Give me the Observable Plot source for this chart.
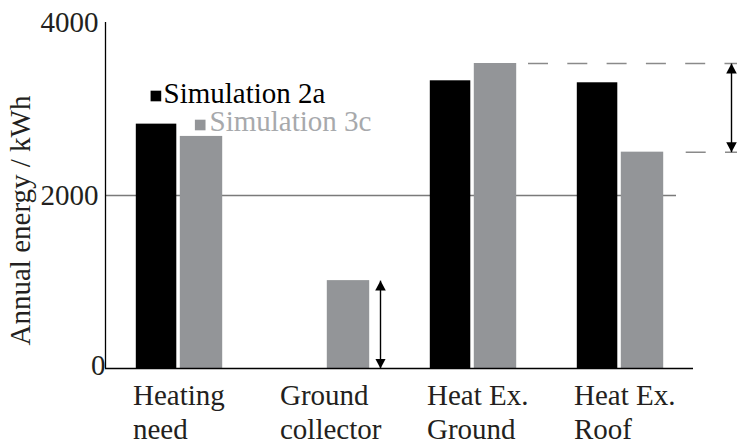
<!DOCTYPE html>
<html>
<head>
<meta charset="utf-8">
<script src="https://cdn.jsdelivr.net/npm/d3@7"></script>
<script src="https://cdn.jsdelivr.net/npm/@observablehq/plot@0.6"></script>
<style>
  html, body { margin: 0; padding: 0; background: white; }
  #chart svg, #chart svg text { font-family: "Liberation Serif", "Tinos", "DejaVu Serif", "Noto Serif", serif !important; }
</style>
</head>
<body>
<div id="chart"></div>
<script>
// ---- data ----
const categories = ["Heating\nneed", "Ground\ncollector", "Heat Ex.\nGround", "Heat Ex.\nRoof"];
const sim2a = [2825, 0, 3326, 3303];
const sim3c = [2683, 1016, 3526, 2501];
const seriesNames = ["Simulation 2a", "Simulation 3c"];
const yTicks = [0, 2000, 4000];
const yLabel = "Annual energy / kWh";

const rows2a = categories.map((c, i) => ({cat: c, value: sim2a[i]}));
const rows3c = categories.map((c, i) => ({cat: c, value: sim3c[i]}));

const black = "#000000";
const gray = "#939598";
const serif = "'Liberation Serif', 'DejaVu Serif', serif";

function arrowHead(color) {
  const ns = "http://www.w3.org/2000/svg";
  const m = document.createElementNS(ns, "marker");
  m.setAttribute("viewBox", "-10 -5.5 10 11");
  m.setAttribute("markerWidth", "10");
  m.setAttribute("markerHeight", "11");
  m.setAttribute("markerUnits", "userSpaceOnUse");
  m.setAttribute("refX", "0");
  m.setAttribute("refY", "0");
  m.setAttribute("orient", "auto-start-reverse");
  const p = document.createElementNS(ns, "path");
  p.setAttribute("d", "M-10,-5.3L0,0L-10,5.3Z");
  p.setAttribute("fill", color || "black");
  p.setAttribute("stroke", "none");
  m.appendChild(p);
  return m;
}

const chart = Plot.plot({
  width: 737,
  height: 448,
  marginLeft: 105,
  marginRight: 44,
  marginTop: 22,
  marginBottom: 80,
  style: {fontSize: "29px", color: "#231f20", background: "white"},
  x: {domain: categories, padding: 0},
  y: {domain: [0, 4000]},
  marks: [
    // gridline at 2000
    Plot.ruleY([yTicks[1]], {stroke: "#7a7a7a", strokeWidth: 1.3, insetRight: 17}),
    // bars
    Plot.barY(rows2a, {x: "cat", y: "value", fill: black, insetLeft: 30.8, insetRight: 75.7}),
    Plot.barY(rows3c, {x: "cat", y: "value", fill: gray, insetLeft: 74.8, insetRight: 29.8}),
    // baseline & y axis line
    Plot.ruleY([0], {stroke: "black", strokeWidth: 1.3}),
    Plot.ruleX([categories[0]], {y1: 0, y2: 4000, dx: -73.5, stroke: "black", strokeWidth: 1.3}),
    // dashed reference lines
    Plot.ruleY([sim3c[2]], {stroke: "#8a8a8a", strokeWidth: 1.5, strokeDasharray: "20,19.3", insetLeft: 423, insetRight: -44}),
    Plot.ruleY([sim3c[3]], {stroke: "#8a8a8a", strokeWidth: 1.5, strokeDasharray: "20,19.3", insetLeft: 580.7, insetRight: -44}),
    // double arrows
    Plot.link([{cat: categories[1], a: 0, b: sim3c[1]}], {x1: "cat", x2: "cat", y1: "a", y2: "b", dx: 54.5, stroke: "black", strokeWidth: 1.4, markerStart: arrowHead, markerEnd: arrowHead}),
    Plot.link([{cat: categories[3], a: sim3c[3], b: sim3c[2]}], {x1: "cat", x2: "cat", y1: "a", y2: "b", dx: 111.5, stroke: "black", strokeWidth: 1.4, markerStart: arrowHead, markerEnd: arrowHead}),
    // axes
    Plot.axisY([yTicks[1], yTicks[2]], {tickSize: 0, tickPadding: 7, tickFormat: d => String(d), label: null}),
    Plot.axisY([yTicks[0]], {tickSize: 0, tickPadding: 0, dy: -3, tickFormat: d => String(d), label: null}),
    Plot.axisX({tickSize: 0, tickPadding: 12, textAnchor: "start", dx: -46, lineHeight: 1.17, label: null}),
    // y label
    Plot.text([yLabel], {frameAnchor: "left", textAnchor: "middle", rotate: -90, dx: -85, dy: 25, text: d => d}),
    // legend
    Plot.dot([seriesNames[0]], {frameAnchor: "top-left", symbol: "square", r: 6, fill: black, dx: 50.4, dy: 73.5}),
    Plot.text([seriesNames[0]], {frameAnchor: "top-left", text: d => d, textAnchor: "start", lineAnchor: "bottom", dx: 58, dy: 80, fill: "#000"}),
    Plot.dot([seriesNames[1]], {frameAnchor: "top-left", symbol: "square", r: 6, fill: gray, dx: 94.7, dy: 102.5}),
    Plot.text([seriesNames[1]], {frameAnchor: "top-left", text: d => d, textAnchor: "start", lineAnchor: "bottom", dx: 104, dy: 108, fill: "#a7a9ac"})
  ]
});
chart.setAttribute("font-family", serif);
document.getElementById("chart").appendChild(chart);
</script>
</body>
</html>
